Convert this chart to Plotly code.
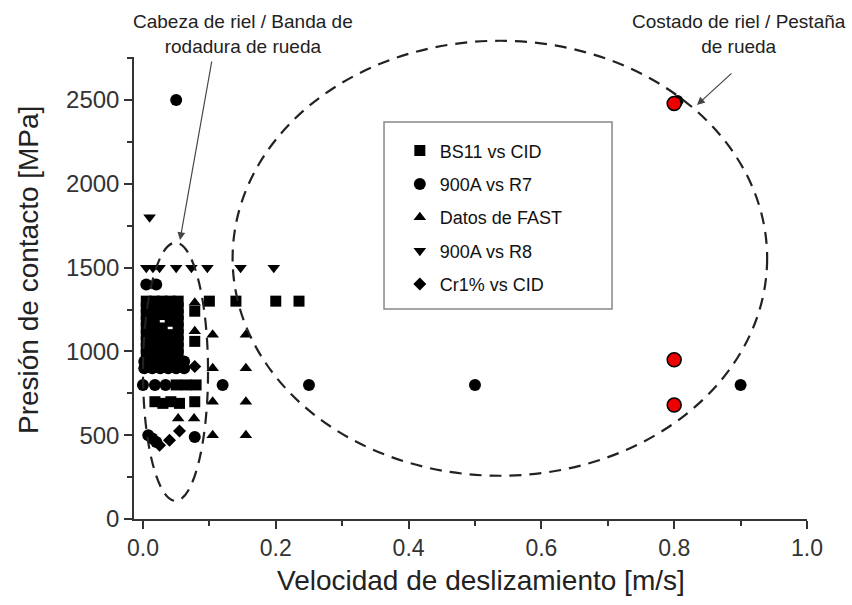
import plotly.graph_objects as go

# ---------------- data ----------------
bs11_v = [0.005, 0.017, 0.029, 0.041, 0.053,
          0.005, 0.017, 0.029, 0.041, 0.053,
          0.005, 0.017, 0.029, 0.041, 0.053,
          0.005, 0.017, 0.041, 0.053,
          0.005, 0.017, 0.029, 0.053,
          0.005, 0.017, 0.029, 0.041, 0.053,
          0.005, 0.017, 0.029, 0.041, 0.053,
          0.005, 0.017, 0.029, 0.041, 0.053,
          0.005, 0.017, 0.029, 0.041, 0.053,
          0.078, 0.078,
          0.050, 0.065, 0.080,
          0.018, 0.030, 0.042, 0.055, 0.078,
          0.100, 0.140, 0.200, 0.235]
bs11_p = [1300, 1300, 1300, 1300, 1300,
          1260, 1260, 1260, 1260, 1260,
          1220, 1220, 1220, 1220, 1220,
          1180, 1180, 1180, 1180,
          1140, 1140, 1140, 1140,
          1100, 1100, 1100, 1100, 1100,
          1060, 1060, 1060, 1060, 1060,
          1020, 1020, 1020, 1020, 1020,
          980, 980, 980, 980, 980,
          1240, 1060,
          800, 800, 800,
          700, 690, 700, 690, 700,
          1300, 1300, 1300, 1300]

r7_v = [0.050, 0.805, 0.120, 0.250, 0.500, 0.900,
        0.005, 0.020,
        0.002, 0.014, 0.026, 0.038, 0.050, 0.062,
        0.002, 0.014, 0.026, 0.038, 0.050, 0.062,
        0.000, 0.018, 0.034,
        0.008, 0.014, 0.020, 0.078]
r7_p = [2500, 2495, 800, 800, 800, 800,
        1400, 1400,
        940, 940, 940, 940, 940, 940,
        900, 900, 900, 900, 900, 900,
        800, 800, 800,
        500, 480, 460, 490]

fast_v = [0.078, 0.078, 0.053, 0.077,
          0.105, 0.155, 0.105, 0.155, 0.105, 0.155, 0.105, 0.155]
fast_p = [1290, 1120, 600, 600,
          1100, 1100, 900, 900, 700, 700, 500, 500]

r8_v = [0.010, 0.005, 0.015, 0.025, 0.050, 0.073, 0.097, 0.147, 0.197]
r8_p = [1800, 1500, 1500, 1500, 1500, 1500, 1500, 1500, 1500]

cr_v = [0.025, 0.040, 0.055, 0.078]
cr_p = [440, 470, 525, 910]

red_v = [0.8, 0.8, 0.8]
red_p = [2480, 950, 680]

x_ticks = [0.0, 0.2, 0.4, 0.6, 0.8, 1.0]
x_tick_labels = ["0.0", "0.2", "0.4", "0.6", "0.8", "1.0"]
y_ticks = [0, 500, 1000, 1500, 2000, 2500]

X_TITLE = "Velocidad de deslizamiento [m/s]"
Y_TITLE = "Presión de contacto [MPa]"

X_RANGE = [-0.0135, 1.0]
Y_RANGE = [0, 2757]

FONT = "Liberation Sans, Arial, sans-serif"

fig = go.Figure()

def add_series(name, xs, ys, symbol, size):
    fig.add_trace(go.Scatter(
        x=xs, y=ys, mode="markers", name=name, legendgroup=name,
        marker=dict(symbol=symbol, size=size, color="black",
                    line=dict(width=0)),
        cliponaxis=False,
    ))

add_series("BS11 vs CID", bs11_v, bs11_p, "square", 11)
add_series("900A vs R7", r7_v, r7_p, "circle", 12)
add_series("Datos de FAST", fast_v, fast_p, "triangle-up", 11)
add_series("900A vs R8", r8_v, r8_p, "triangle-down", 11)
add_series("Cr1% vs CID", cr_v, cr_p, "diamond", 10)

fig.add_trace(go.Scatter(
    x=red_v, y=red_p, mode="markers", showlegend=False,
    marker=dict(symbol="circle", size=14, color="#ee0000",
                line=dict(width=1.5, color="black")),
    cliponaxis=False,
))

def xp(v):
    return (v - X_RANGE[0]) / (X_RANGE[1] - X_RANGE[0])

def yp(p):
    return (p - Y_RANGE[0]) / (Y_RANGE[1] - Y_RANGE[0])

dash = "12px,8px"
fig.add_shape(type="circle", xref="paper", yref="paper",
              x0=xp(0.135), x1=xp(0.94), y0=yp(258), y1=yp(2854),
              line=dict(color="#222", width=2.2, dash=dash))
fig.add_shape(type="circle", xref="paper", yref="paper",
              x0=xp(0.0), x1=xp(0.098), y0=yp(108), y1=yp(1649),
              line=dict(color="#222", width=2.2, dash=dash))

fig.add_shape(type="rect", xref="paper", yref="paper",
              x0=0.3715, x1=0.7103, y0=0.4545, y1=0.8593,
              line=dict(color="#888", width=1.5), fillcolor="rgba(0,0,0,0)")

def px2paper(px, py):
    return ((px - 134) / 673, (519 - py) / 462)

def label(text, pos, size, angle=0):
    x, y = px2paper(*pos)
    fig.add_annotation(xref="paper", yref="paper", x=x, y=y, text=text,
                       showarrow=False, xanchor="center", yanchor="middle",
                       textangle=angle,
                       font=dict(family=FONT, size=size, color="#222"))

label("Cabeza de riel / Banda de<br>rodadura de rueda", (243, 34), 19)
label("Costado de riel / Pestaña<br>de rueda", (739, 34), 19)
label(X_TITLE, (481, 580), 28)
label(Y_TITLE, (28, 270), 28, angle=-90)

def arrow(head, tail):
    hx, hy = px2paper(*head)
    fig.add_annotation(xref="paper", yref="paper", axref="pixel", ayref="pixel",
                       x=hx, y=hy, ax=tail[0] - head[0], ay=tail[1] - head[1],
                       text="", showarrow=True,
                       arrowhead=2, arrowsize=1.3, arrowwidth=1.2, arrowcolor="#444")

arrow((180, 240), (212, 60))
arrow((697, 105), (733, 72))

fig.update_layout(
    width=852, height=605,
    margin=dict(l=134, r=45, t=57, b=86),
    paper_bgcolor="white", plot_bgcolor="white",
    font=dict(family=FONT, color="#222"),
    showlegend=True,
    legend=dict(x=0.395, y=0.837, xanchor="left", yanchor="top",
                bgcolor="rgba(0,0,0,0)", borderwidth=0,
                font=dict(family=FONT, size=18, color="#111"),
                tracegroupgap=7, traceorder="grouped"),
    xaxis=dict(range=X_RANGE, tickvals=x_ticks, ticktext=x_tick_labels,
               showline=True, linecolor="#333", linewidth=1.5,
               ticks="outside", ticklen=8, tickwidth=1.5, tickcolor="#333",
               minor=dict(dtick=0.1, ticks="outside", ticklen=5, tickwidth=1.5, tickcolor="#333"),
               showgrid=False, zeroline=False,
               tickfont=dict(family=FONT, size=23, color="#333")),
    yaxis=dict(range=Y_RANGE, tickvals=y_ticks,
               showline=True, linecolor="#333", linewidth=1.5,
               ticks="outside", ticklen=8, tickwidth=1.5, tickcolor="#333",
               minor=dict(dtick=250, ticks="outside", ticklen=5, tickwidth=1.5, tickcolor="#333"),
               showgrid=False, zeroline=False,
               tickfont=dict(family=FONT, size=24, color="#333")),
)

fig.write_html("out.html", config={"displayModeBar": False},
               post_script="document.body.style.margin='0';")
